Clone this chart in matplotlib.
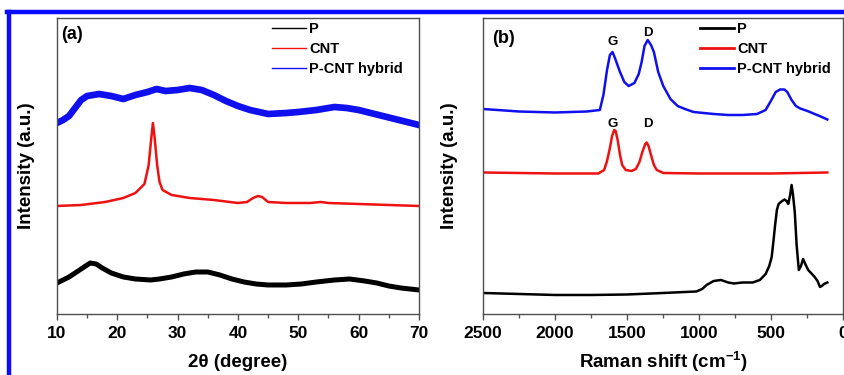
"""
XRD (a) and Raman (b) patterns of P, CNT and the P-CNT hybrid.
Curves are traced by eye from the published figure; offsets are in a.u.
"""

import matplotlib

matplotlib.use("Agg")
import matplotlib.pyplot as plt  # noqa: E402
from matplotlib.lines import Line2D  # noqa: E402
from matplotlib.ticker import MultipleLocator  # noqa: E402

plt.rcParams["font.family"] = ["Liberation Sans", "DejaVu Sans"]
plt.rcParams["font.weight"] = "bold"
plt.rcParams["mathtext.fontset"] = "custom"
plt.rcParams["mathtext.bf"] = "Liberation Sans:bold"
plt.rcParams["mathtext.rm"] = "Liberation Sans:bold"
plt.rcParams["mathtext.default"] = "bf"

LABELS = ["P", "CNT", "P-CNT hybrid"]
COLORS = ["#000000", "#ee1111", "#1010ee"]

# ---- (a) XRD, 2theta in degree ------------------------------------------
xrd_p_x = [10, 12, 13, 14.5, 15.5, 16.5, 17.5, 19, 21, 23, 25.5, 27, 29, 31,
           33, 35, 37, 39, 41, 43, 45, 48, 50.5, 53, 56, 58.5, 61, 63, 65,
           67, 70]
xrd_p_y = [31, 37, 41, 47, 51, 50, 46, 41, 37, 35, 34, 35, 37, 40, 42, 42,
           39, 35, 32, 30, 29, 29, 30, 32, 34, 35, 33, 31, 28, 26, 24]

xrd_cnt_x = [10, 14, 18, 21, 23, 24.5, 25.2, 25.6, 25.9, 26.2, 26.6, 27.0,
             27.5, 29, 32, 36, 40, 41.5, 42.5, 43.3, 44, 45, 48, 52, 53.7,
             55, 60, 65, 70]
xrd_cnt_y = [108, 109, 112, 116, 121, 130, 149, 174, 191, 176, 149, 132,
             124, 119, 116, 114, 111, 112, 116, 118, 117, 112, 111, 111, 112,
             111, 110, 109, 108]

xrd_hyb_x = [10, 11, 12, 13, 14, 15, 17, 19, 21, 23, 25, 26.5, 28, 30, 32,
             34, 36, 38, 40, 42, 45, 48, 50, 53, 56, 58, 60, 62, 64, 66, 68,
             70]
xrd_hyb_y = [191, 194, 198, 206, 214, 218, 220, 218, 215, 219, 222, 225, 223,
             224, 226, 224, 219, 213, 208, 204, 200, 201, 202, 204, 207, 206,
             204, 201, 198, 195, 192, 189]

# ---- (b) Raman, shift in cm^-1 ------------------------------------------
ram_p_x = [2500, 2250, 2000, 1750, 1500, 1250, 1100, 1020, 980, 950, 900,
           850, 800, 760, 700, 630, 580, 540, 515, 498, 485, 475, 462, 450,
           430, 410, 395, 383, 370, 360, 350, 338, 325, 310, 295, 280, 265,
           245, 225, 200, 180, 163, 150, 135, 112]
ram_p_y = [21, 20, 19, 19, 19.5, 21, 22, 22.5, 25, 29, 33, 34, 31.5, 30.5,
           31.5, 31.5, 34, 40, 48, 57, 74, 88, 104, 110, 112.5, 114.5, 113,
           110, 119, 129, 119, 102, 69, 44, 48, 55, 50, 44, 41, 37, 33, 27,
           28, 30, 31.5]

ram_cnt_x = [2500, 2000, 1700, 1660, 1640, 1620, 1605, 1590, 1580, 1565,
             1550, 1535, 1510, 1470, 1440, 1415, 1395, 1375, 1365, 1352,
             1335, 1315, 1295, 1250, 1000, 500, 112]
ram_cnt_y = [141.5, 140.5, 140.5, 144, 153, 166, 178, 184, 183, 173, 159,
             149, 144, 143, 145, 152, 162, 170, 171.5, 168, 159, 149, 144,
             141, 140.5, 140.5, 141.5]

ram_hyb_x = [2500, 2250, 2000, 1780, 1690, 1665, 1640, 1620, 1602, 1585,
             1550, 1520, 1490, 1450, 1420, 1400, 1380, 1358, 1335, 1315,
             1285, 1250, 1200, 1150, 1100, 1040, 900, 800, 700, 600, 540,
             500, 470, 440, 410, 390, 360, 330, 300, 250, 200, 150, 112]
ram_hyb_y = [205, 202.5, 201.5, 202.5, 204, 219, 244, 259, 262, 256, 242,
             232, 228, 231, 240, 252, 268, 274, 269, 262, 242, 228, 215, 208,
             205, 202, 200, 199, 199, 200, 204, 214, 222, 224.5, 224.5, 222,
             214, 208, 205.5, 203, 200, 197, 194.5]


def style_axes(ax):
    for sp in ax.spines.values():
        sp.set_color("#505050")
        sp.set_linewidth(1.0)
    ax.set_yticks([])
    ax.tick_params(axis="x", which="both", direction="out", color="#505050",
                   width=1.0, pad=5)
    ax.tick_params(axis="x", which="major", length=4)
    ax.tick_params(axis="x", which="minor", length=3)


def legend(ax, handles, x0):
    ax.legend(handles, LABELS, loc="upper left", bbox_to_anchor=(x0, 0.985),
              frameon=False, prop={"size": 10.5, "weight": "bold"},
              handlelength=2.3, handletextpad=0.25, labelspacing=0.4,
              borderpad=0.0, borderaxespad=0.0)


fig = plt.figure(figsize=(8.44, 3.75), dpi=100)
ax1 = fig.add_axes([0.0675, 0.1627, 0.4289, 0.7893])
ax2 = fig.add_axes([0.5723, 0.1627, 0.4271, 0.7893])

# (a)
ax1.plot(xrd_p_x, xrd_p_y, color=COLORS[0], lw=3.6, solid_joinstyle="round")
ax1.plot(xrd_cnt_x, xrd_cnt_y, color=COLORS[1], lw=1.8)
ax1.plot(xrd_hyb_x, xrd_hyb_y, color=COLORS[2], lw=4.8,
         solid_joinstyle="round")
ax1.set_xlim(10, 70)
ax1.set_ylim(0, 296)
ax1.xaxis.set_major_locator(MultipleLocator(10))
ax1.xaxis.set_minor_locator(MultipleLocator(5))
style_axes(ax1)
ax1.tick_params(axis="x", labelsize=12.5)
ax1.set_xlabel("2θ (degree)", fontsize=13.5, fontweight="bold", labelpad=9)
ax1.set_ylabel("Intensity (a.u.)", fontsize=13.5, fontweight="bold",
               labelpad=16)
ax1.text(0.012, 0.945, "(a)", transform=ax1.transAxes, fontsize=13,
         fontweight="bold", va="center")
legend(ax1, [Line2D([], [], color=c, lw=1.0) for c in COLORS],
       (272 - 57) / 362)

# (b)
ax2.plot(ram_p_x, ram_p_y, color=COLORS[0], lw=1.8)
ax2.plot(ram_cnt_x, ram_cnt_y, color=COLORS[1], lw=1.8)
ax2.plot(ram_hyb_x, ram_hyb_y, color=COLORS[2], lw=1.8)
ax2.set_xlim(2500, 0)
ax2.set_ylim(0, 296)
ax2.xaxis.set_major_locator(MultipleLocator(500))
ax2.xaxis.set_minor_locator(MultipleLocator(250))
style_axes(ax2)
ax2.tick_params(axis="x", labelsize=12.5)
ax2.set_xlabel(r"Raman shift (cm$^{-1}$)", fontsize=13.5, fontweight="bold",
               labelpad=6)
ax2.set_ylabel("Intensity (a.u.)", fontsize=13.5, fontweight="bold",
               labelpad=18)
ax2.text(0.025, 0.93, "(b)", transform=ax2.transAxes, fontsize=13,
         fontweight="bold", va="center")
for gx, gy, s in [(1600, 272, "G"), (1355, 281, "D"),
                  (1600, 190, "G"), (1355, 190, "D")]:
    ax2.text(gx, gy, s, fontsize=9.5, fontweight="bold", ha="center",
             va="center")
legend(ax2, [Line2D([], [], color=c, lw=2.0) for c in COLORS],
       (700 - 483) / 360.5)

# blue frame of the original graphic
fig.add_artist(Line2D([0.008, 1.0], [0.968, 0.968], color="#0a0aff", lw=3.2,
                      transform=fig.transFigure))
fig.add_artist(Line2D([0.0112, 0.0112], [0.0, 0.968], color="#0a0aff",
                      lw=3.2, transform=fig.transFigure))

fig.savefig("out.png", dpi=100)
